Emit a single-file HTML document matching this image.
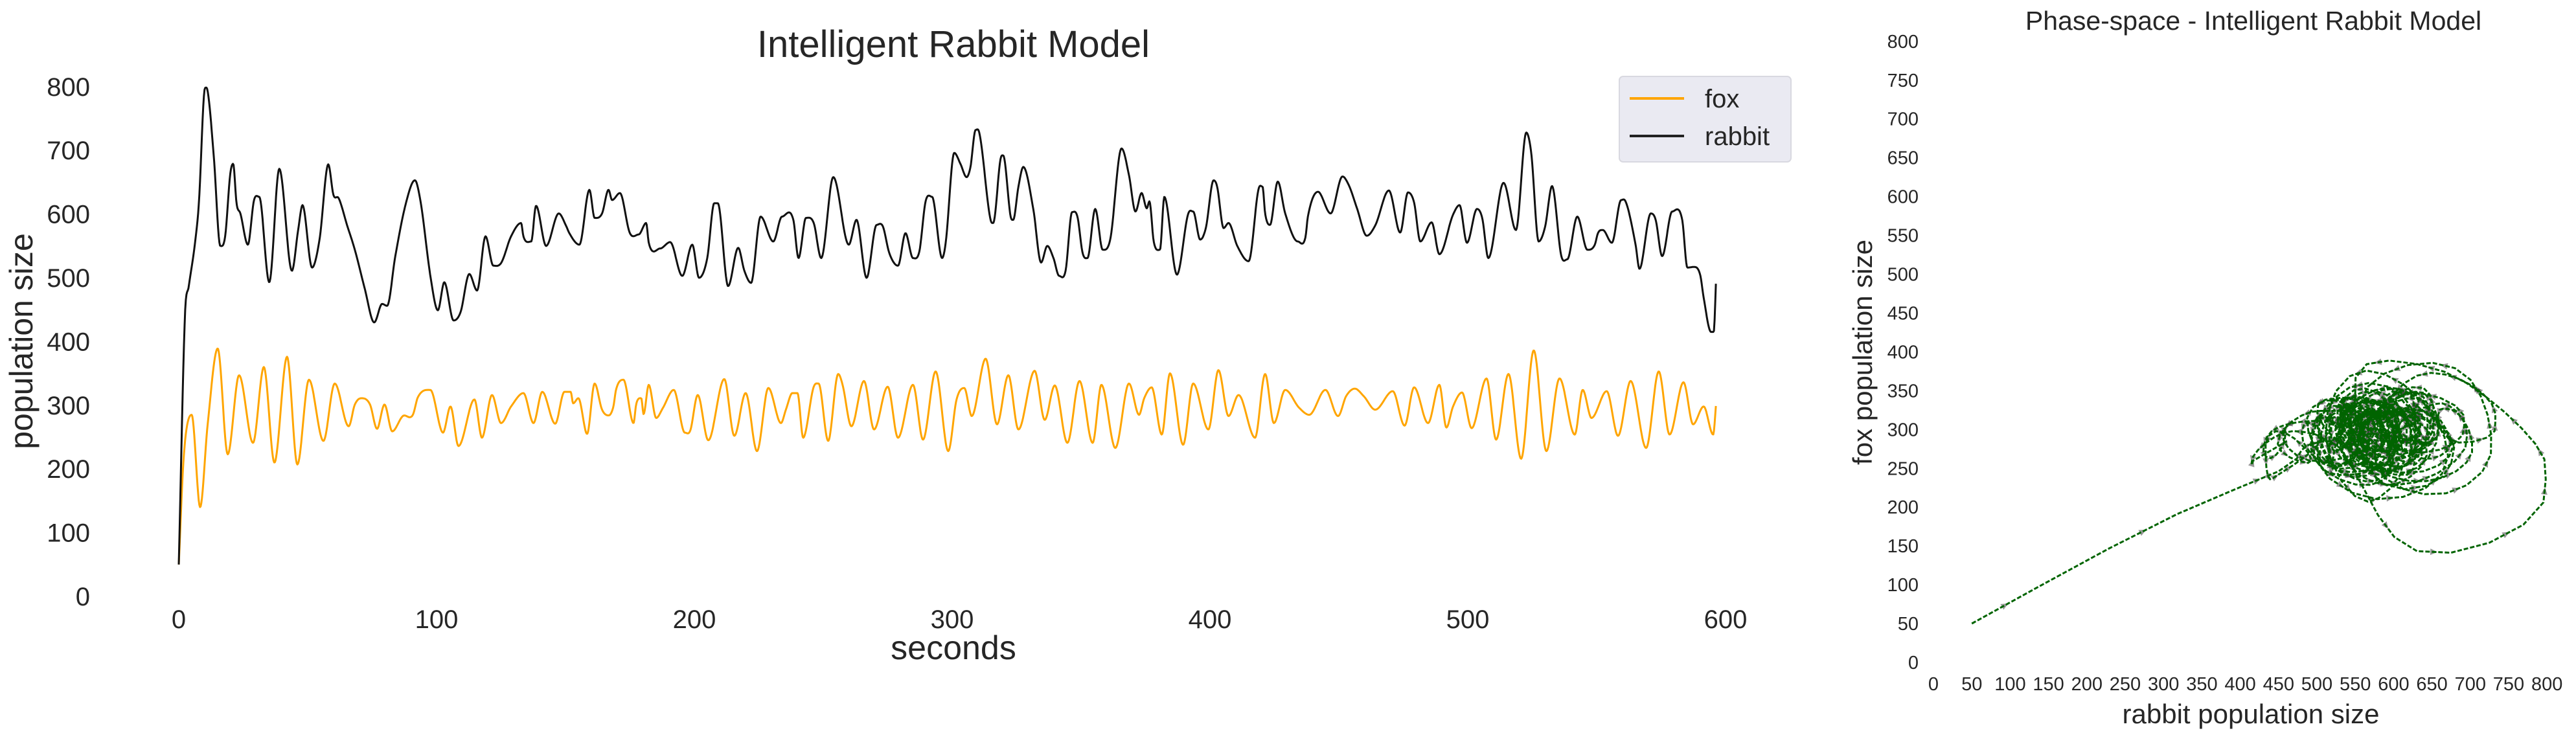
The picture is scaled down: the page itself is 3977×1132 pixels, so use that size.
<!DOCTYPE html>
<html><head><meta charset="utf-8">
<style>
html,body{margin:0;padding:0;background:#fff;}
svg{display:block;font-family:"Liberation Sans",Arial,sans-serif;}
</style></head>
<body>
<svg id="chart" width="3977" height="1132" viewBox="0 0 3977 1132" xmlns="http://www.w3.org/2000/svg">
<g id="left"></g>
<g id="right"></g>
</svg>
<script>
const rabbitT=[0,2.4,3.9,6.3,7.8,10.2,11.2,13.6,16.1,18,20,21.1,22.4,23.9,26.8,29.2,31.2,35.1,39,43.9,46.3,48,51.7,54.6,58,60,62,65.4,68.3,72.2,75.8,78.9,80.8,84,87.8,91.6,93.7,97.6,100.5,103,106.6,109.3,112.7,115.7,119,122,125,128.9,132.8,133.7,136.7,138.6,142.5,147.4,150.3,151.5,155.4,159.3,161.3,164.2,166.7,168.1,171.1,175,178.4,181.3,182.3,186.7,190.6,195.3,199.2,201.8,205,207.7,209.1,213.1,217,219.4,222,225.7,230.6,234,238.4,240.4,243.3,246.3,249.2,253.9,259.9,262.9,266.8,270.7,273.1,275.6,279,281.9,284.8,287.3,289.7,292.2,296.1,297.5,300.8,303.2,305.6,307.1,309.1,310.5,314.9,315.9,318.8,319.8,322.7,323.7,325.7,327.6,331.5,334.5,336.9,339.3,341.5,344,346.5,348.6,350.6,352.5,355.5,358.4,361.3,365.7,368.6,371.1,373.5,375.5,376.5,378.2,380.6,382.3,387.2,391.6,393.5,396.2,398.4,401.4,402.8,405.3,407.2,410.6,415,418.9,420.4,421.4,423.3,426.3,429.2,434.1,437,438,441.9,446.8,451.4,453.8,457.2,460.8,464.1,469.4,473.8,476.8,479.2,481.6,486,489,494.3,496.8,499.7,503.6,505.6,508,513.9,518.7,522.7,524.6,527.5,530,532.7,536.3,538.6,542.5,546.4,549.3,550.5,552.4,555.9,559.5,561.2,565.1,566.6,571,572.9,575.4,579.3,583.2,585.2,587.6,590.2,591.5,594.4,595.4,596.4];
const rabbitV=[50,441,487,555,617,798,793,690,550,565,664,679,617,601,552,622,627,493,671,511,575,614,516,560,678,630,625,581,544,482,430,459,456,534,612,653,622,503,449,493,433,446,506,480,565,519,523,565,586,565,557,613,550,601,581,570,552,638,594,601,638,622,633,570,568,586,555,546,556,503,552,500,531,617,617,487,547,511,492,596,557,596,591,531,594,586,531,658,552,591,500,583,581,539,519,570,531,542,620,627,531,555,696,679,658,674,732,728,591,586,687,692,596,591,643,674,607,524,550,531,503,511,603,596,539,531,608,544,560,703,661,604,633,609,620,557,544,627,505,601,604,560,578,653,643,578,586,550,526,640,643,601,583,651,601,557,563,596,635,601,659,646,607,566,582,637,571,634,618,557,587,537,599,614,555,608,594,531,649,575,728,697,557,580,644,534,529,596,544,552,570,575,555,622,620,552,514,601,591,534,604,591,516,517,504,469,415,415,506];
const foxT=[0,1.9,5,8.3,11.2,15.1,19,23.4,28.8,33,37.1,42,46,50.5,56.1,60.5,65.9,68.3,70.8,74.2,76.9,79.8,82.8,86.9,90.8,92.7,97.6,102.5,105.4,108.5,114.7,117.6,121.5,125,128.9,133.7,137.6,141,146,149.6,152,153,155,158.4,161.3,164.2,166.7,168.6,169.6,172.5,176.4,177.4,179.4,180.3,182.3,185.2,187.7,192,196.3,198.4,201.3,205.4,211.6,215.5,219.9,224.3,228.7,233.6,235.5,238,240,242.2,246.3,248.2,251.9,255.8,257.5,260.9,265.8,269.7,275,279,284.8,288.7,293.6,298.5,301.7,304.7,307.6,313,317.4,321.8,325.7,332,335.9,339.8,344.7,349.4,354.5,357.9,363.3,368.6,372.5,374.5,377.4,381.3,384.5,389.6,393.5,399.4,403.3,407.2,411.1,417.5,421.4,424.8,429.2,434.6,438.5,444.8,449.7,452.8,456.2,459.7,464.1,470.9,475.5,479.2,484.6,489,491.7,494.3,497.8,501.5,507.3,511,515.8,520.7,525.6,530.5,535.6,541.5,544.6,548,553.9,558.3,563.2,569.2,574.1,578.3,583.7,587.4,591.5,595.2,596.4];
const foxV=[50,218,285,140,270,389,223,347,241,360,210,376,207,340,244,334,267,301,311,301,263,301,259,283,285,312,324,257,298,236,309,249,316,272,298,319,272,321,271,321,321,303,311,255,334,293,284,298,324,340,272,301,311,286,332,280,295,324,257,260,316,245,341,252,319,228,327,272,293,319,319,249,329,334,244,349,332,267,338,262,329,249,332,246,353,228,309,327,283,373,270,347,262,354,277,331,241,338,241,332,233,334,285,311,328,254,350,238,334,262,355,283,316,249,349,272,324,296,285,324,283,314,326,314,293,322,268,328,272,332,265,298,320,264,342,246,349,216,386,228,342,254,324,280,322,252,338,233,353,254,336,270,298,254,306];
const xTicks=[0,100,200,300,400,500,600];
const yTicks=[0,100,200,300,400,500,600,700,800];
const phaseTicks=[0,50,100,150,200,250,300,350,400,450,500,550,600,650,700,750,800];

const NS="http://www.w3.org/2000/svg";
function mk(parent,tag,attrs,text){const e=document.createElementNS(NS,tag);for(const k in attrs)e.setAttribute(k,attrs[k]);if(text!==undefined)e.textContent=text;parent.appendChild(e);return e;}
const TXT="#262626";
// smooth (Hermite) interpolation of series
function slopes(T,V){const m=[];for(let i=0;i<T.length;i++){if(i===0)m.push((V[1]-V[0])/(T[1]-T[0]));else if(i===T.length-1)m.push((V[i]-V[i-1])/(T[i]-T[i-1]));else{const a=(V[i]-V[i-1])/(T[i]-T[i-1]),b=(V[i+1]-V[i])/(T[i+1]-T[i]);m.push(a*b<=0?0:(a+b)/2);}}return m;}
function smooth(T,V,M,t){if(t<=T[0])return V[0];for(let i=1;i<T.length;i++){if(t<=T[i]){const h=T[i]-T[i-1],s=(t-T[i-1])/h,s2=s*s,s3=s2*s;return (2*s3-3*s2+1)*V[i-1]+(s3-2*s2+s)*h*M[i-1]+(-2*s3+3*s2)*V[i]+(s3-s2)*h*M[i];}}return V[V.length-1];}
const rM=slopes(rabbitT,rabbitV),fM=slopes(foxT,foxV);
// Left axes
const L=document.getElementById('left');
const xS=t=>276+t*3.98;
const yS=v=>921-v*0.984;
let e=mk(L,'text',{x:1472,y:88,'font-size':58,'text-anchor':'middle',fill:TXT},'Intelligent Rabbit Model');


xTicks.forEach(t=>{const el=mk(L,'text',{x:xS(t),y:970,'font-size':40,'text-anchor':'middle',fill:TXT},String(t));

});
yTicks.forEach(v=>{const el=mk(L,'text',{x:139,y:yS(v)+14,'font-size':40,'text-anchor':'end',fill:TXT},String(v));

});
e=mk(L,'text',{x:1472,y:1018,'font-size':52,'text-anchor':'middle',fill:TXT},'seconds');


e=mk(L,'text',{x:0,y:0,'font-size':50,'text-anchor':'middle',fill:TXT,transform:'translate(50,527) rotate(-90)'},'population size');


function path(T,V,M){const end=T[T.length-1];let d='';for(let t=0;t<=end+1e-9;t+=0.25){d+=(d?'L':'M')+xS(t).toFixed(1)+','+yS(smooth(T,V,M,t)).toFixed(1);}return d;}
e=mk(L,'path',{d:path(foxT,foxV,fM),fill:'none',stroke:'#ffa500','stroke-width':3,'stroke-linejoin':'round'});


e=mk(L,'path',{d:path(rabbitT,rabbitV,rM),fill:'none',stroke:'#111','stroke-width':3,'stroke-linejoin':'round'});


// legend
const lg=mk(L,'g',{});


mk(lg,'rect',{x:2500,y:118,width:265,height:132,rx:6,fill:'#eaeaf2',stroke:'#d8d8e0','stroke-width':2});
e=mk(lg,'line',{x1:2516,y1:152,x2:2600,y2:152,stroke:'#ffa500','stroke-width':4});


e=mk(lg,'text',{x:2632,y:166,'font-size':40,fill:TXT},'fox');


e=mk(lg,'line',{x1:2516,y1:210,x2:2600,y2:210,stroke:'#222','stroke-width':4});


e=mk(lg,'text',{x:2632,y:224,'font-size':40,fill:TXT},'rabbit');



// Right: phase space
const R=document.getElementById('right');
const pxS=v=>2985+v*1.184;
const pyS=v=>1023-v*1.199;
e=mk(R,'text',{x:3479,y:46,'font-size':41,'text-anchor':'middle',fill:TXT},'Phase-space - Intelligent Rabbit Model');


phaseTicks.forEach(v=>{const el=mk(R,'text',{x:2962,y:pyS(v)+10,'font-size':29,'text-anchor':'end',fill:TXT},String(v));

});
phaseTicks.forEach(v=>{const el=mk(R,'text',{x:pxS(v),y:1066,'font-size':29,'text-anchor':'middle',fill:TXT},String(v));

});
e=mk(R,'text',{x:3475,y:1117,'font-size':42,'text-anchor':'middle',fill:TXT},'rabbit population size');


e=mk(R,'text',{x:0,y:0,'font-size':42,'text-anchor':'middle',fill:TXT,transform:'translate(2890,544) rotate(-90)'},'fox population size');


const tEnd=Math.min(rabbitT[rabbitT.length-1],foxT[foxT.length-1]);
const pts=[];
for(let t=0;t<=tEnd;t+=0.5){pts.push([smooth(rabbitT,rabbitV,rM,t),smooth(foxT,foxV,fM,t)]);}
const ag=mk(R,'g',{fill:'#333','fill-opacity':0.5});


e=mk(R,'path',{d:pts.map((p,i)=>(i?'L':'M')+pxS(p[0]).toFixed(1)+','+pyS(p[1]).toFixed(1)).join(''),fill:'none',stroke:'#006400','stroke-width':3,'stroke-dasharray':'7 3'});


for(let i=0;i<pts.length-1;i+=2){
  const x1=pxS(pts[i][0]),y1=pyS(pts[i][1]),x2=pxS(pts[i+1][0]),y2=pyS(pts[i+1][1]);
  const dx=x2-x1,dy=y2-y1,len=Math.hypot(dx,dy);if(len<0.5)continue;
  const ux=dx/len,uy=dy/len,mx=x1+dx*0.5,my=y1+dy*0.5;
  const s=11,w=5;
  const tip=[mx+ux*s/2,my+uy*s/2],b1=[mx-ux*s/2-uy*w,my-uy*s/2+ux*w],b2=[mx-ux*s/2+uy*w,my-uy*s/2-ux*w];
  const a=mk(ag,'polygon',{points:tip.join(',')+' '+b1.join(',')+' '+b2.join(',')});
  
  
}
</script>
</body></html>
